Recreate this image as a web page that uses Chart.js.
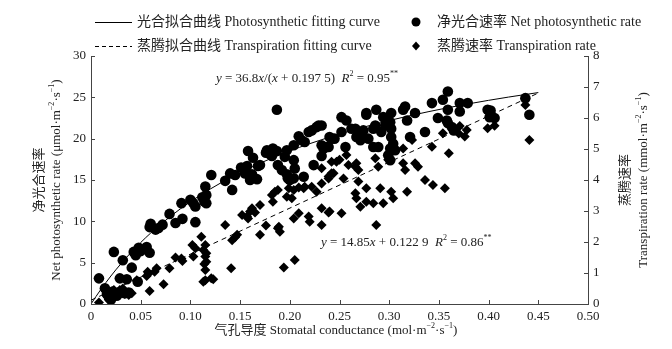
<!DOCTYPE html>
<html lang="zh">
<head>
<meta charset="UTF-8">
<title>气孔导度</title>
<script src="https://cdn.jsdelivr.net/npm/chart.js"></script>
<style>
  body { margin: 0; background: #fff; }
</style>
</head>
<body>
<canvas id="chart1" width="672" height="349"></canvas>
<script>
// net photosynthetic rate, [stomatal conductance, rate] (left axis)
const photoPts = [
  [0.008,3.1],[0.014,1.9],[0.016,1.2],[0.018,0.8],[0.020,0.5],[0.022,1.5],[0.023,6.3],[0.026,1.0],
  [0.029,3.1],[0.032,5.3],[0.034,1.3],[0.036,3.0],[0.038,1.4],[0.041,4.4],[0.043,6.3],[0.045,5.9],
  [0.047,2.7],[0.048,6.8],[0.050,6.4],[0.056,6.9],[0.059,6.2],[0.059,9.3],[0.060,9.7],[0.065,9.0],
  [0.068,9.2],[0.072,9.6],[0.079,10.9],[0.085,9.8],[0.091,12.2],[0.092,10.3],[0.100,12.6],[0.103,12.2],
  [0.105,11.8],[0.105,9.9],[0.112,12.9],[0.114,12.4],[0.115,14.2],[0.116,13.2],[0.116,12.2],[0.121,15.6],
  [0.135,14.9],[0.140,15.8],[0.142,13.8],[0.145,15.6],[0.151,16.5],[0.155,15.8],[0.157,16.7],[0.158,15.7],
  [0.158,18.5],[0.160,15.0],[0.162,15.7],[0.163,17.7],[0.167,15.1],[0.168,16.7],[0.170,16.8],[0.176,18.3],
  [0.177,18.6],[0.180,18.1],[0.182,17.9],[0.183,18.8],[0.187,18.5],[0.187,23.5],[0.188,16.8],[0.192,16.2],
  [0.195,17.8],[0.197,15.7],[0.197,18.6],[0.198,15.2],[0.200,15.0],[0.204,15.2],[0.204,17.4],[0.204,19.2],
  [0.205,16.4],[0.209,20.3],[0.212,19.8],[0.214,15.4],[0.215,19.6],[0.219,20.8],[0.222,21.0],[0.224,16.8],
  [0.227,21.4],[0.229,21.6],[0.232,21.6],[0.232,19.2],[0.232,17.9],[0.234,18.8],[0.237,19.0],[0.239,19.0],
  [0.240,20.2],[0.242,20.0],[0.245,20.0],[0.252,20.8],[0.252,22.6],[0.256,19.0],[0.257,22.2],[0.262,21.2],
  [0.266,21.2],[0.267,20.2],[0.269,20.8],[0.271,19.8],[0.272,20.6],[0.274,21.0],[0.277,22.9],[0.277,23.1],
  [0.279,20.0],[0.284,21.2],[0.284,19.0],[0.286,21.6],[0.287,23.5],[0.289,19.0],[0.292,20.8],[0.294,22.6],
  [0.296,21.6],[0.297,22.5],[0.299,18.0],[0.301,22.0],[0.301,17.4],[0.301,18.8],[0.302,23.1],[0.302,21.2],
  [0.302,20.2],[0.304,19.4],[0.306,18.6],[0.314,23.5],[0.316,23.9],[0.318,22.2],[0.321,20.2],[0.326,23.1],
  [0.336,20.8],[0.343,24.3],[0.349,22.5],[0.354,24.7],[0.358,22.2],[0.359,25.7],[0.359,23.5],[0.359,21.9],
  [0.363,21.4],[0.365,21.0],[0.371,24.3],[0.371,23.3],[0.379,24.3],[0.399,23.5],[0.402,23.4],[0.401,22.6],
  [0.406,22.5],[0.437,24.9],[0.441,22.9]
];

// transpiration rate (right axis)
const transPts = [
  [0.008,0.05],[0.016,0.27],[0.019,0.18],[0.021,0.40],[0.023,0.45],[0.029,0.45],[0.031,0.35],[0.032,0.50],
  [0.034,0.32],[0.038,0.29],[0.041,0.35],[0.046,0.77],[0.056,0.90],[0.057,1.04],[0.058,0.98],[0.059,0.42],
  [0.064,1.04],[0.066,1.15],[0.073,0.64],[0.079,1.15],[0.085,1.50],[0.091,1.47],[0.092,1.39],[0.102,1.90],
  [0.103,1.53],[0.105,1.80],[0.111,2.17],[0.113,1.74],[0.113,0.72],[0.114,1.29],[0.115,1.53],[0.115,1.90],
  [0.116,1.64],[0.116,1.36],[0.115,1.10],[0.115,0.77],[0.121,0.83],[0.123,0.80],[0.135,2.55],[0.141,1.15],
  [0.142,2.06],[0.145,2.15],[0.147,2.23],[0.152,2.87],[0.157,2.82],[0.158,2.76],[0.160,2.98],[0.162,3.09],
  [0.165,2.95],[0.170,3.19],[0.170,2.23],[0.176,2.53],[0.182,3.52],[0.183,3.30],[0.185,3.62],[0.188,3.68],
  [0.188,2.44],[0.189,2.49],[0.190,2.33],[0.194,1.18],[0.197,3.46],[0.199,3.73],[0.202,3.41],[0.204,3.68],
  [0.204,2.76],[0.205,1.42],[0.209,2.93],[0.209,3.76],[0.214,3.73],[0.215,3.78],[0.219,2.82],[0.220,2.65],
  [0.222,3.78],[0.227,3.62],[0.232,3.89],[0.232,4.38],[0.232,2.55],[0.232,3.09],[0.239,2.95],[0.239,4.11],
  [0.239,4.05],[0.242,4.59],[0.242,4.22],[0.244,4.22],[0.247,4.59],[0.250,4.65],[0.240,2.98],[0.252,2.93],
  [0.254,4.05],[0.257,4.81],[0.259,4.48],[0.266,4.43],[0.267,4.54],[0.269,4.32],[0.269,3.95],[0.266,3.57],
  [0.267,3.41],[0.271,3.14],[0.277,3.73],[0.277,3.30],[0.284,3.25],[0.286,4.70],[0.287,2.55],[0.289,4.43],
  [0.291,3.73],[0.294,3.25],[0.299,4.65],[0.302,4.91],[0.302,3.62],[0.304,3.41],[0.314,5.02],[0.314,4.54],
  [0.316,4.32],[0.318,3.62],[0.323,5.29],[0.326,4.54],[0.329,4.43],[0.336,4.00],[0.343,5.07],[0.344,3.84],
  [0.354,5.51],[0.356,3.73],[0.360,4.86],[0.370,5.50],[0.371,5.74],[0.376,5.40],[0.378,5.61],[0.399,5.67],
  [0.406,5.75],[0.437,6.42],[0.441,5.29]
];

// fitted equations printed on the chart
const photoFit = { a: 36.8, b: 0.1975 };
const transFit = { k: 14.85, c: 0.1229 };
const fitX = [0,0.005,0.01,0.02,0.03,0.04,0.05,0.06,0.08,0.10,0.12,0.14,0.16,0.18,0.20,
              0.22,0.24,0.26,0.28,0.30,0.32,0.34,0.36,0.38,0.40,0.42,0.45];

const xTicks = [0,0.05,0.10,0.15,0.20,0.25,0.30,0.35,0.40,0.45,0.50];
const yLeftTicks = [0,5,10,15,20,25,30];
const yRightTicks = [0,1,2,3,4,5,6,7,8];

const FONT = '"Liberation Serif", "Times New Roman", "Noto Sans CJK SC", serif';
const TXT = '#222';

function richWidth(ctx, parts, size) {
  let w = 0;
  parts.forEach(p => {
    const s = p.sup ? size * 0.62 : size;
    ctx.font = (p.i ? 'italic ' : '') + s + 'px ' + FONT;
    w += ctx.measureText(p.t).width;
  });
  return w;
}
function richText(ctx, x, y, parts, size) {
  let cx = x;
  ctx.textAlign = 'left';
  ctx.textBaseline = 'middle';
  parts.forEach(p => {
    const s = p.sup ? size * 0.62 : size;
    ctx.font = (p.i ? 'italic ' : '') + s + 'px ' + FONT;
    ctx.fillText(p.t, cx, p.sup ? y - size * 0.38 : y);
    cx += ctx.measureText(p.t).width;
  });
}
function richCenter(ctx, x, y, parts, size) {
  richText(ctx, x - richWidth(ctx, parts, size) / 2, y, parts, size);
}

const decor = {
  id: 'decor',
  afterDraw(chart) {
    const ctx = chart.ctx;
    const { left, right, bottom } = chart.chartArea;
    const xs = chart.scales.x, yl = chart.scales.yL, yr = chart.scales.yR;
    ctx.save();
    // inward tick marks
    ctx.strokeStyle = '#444';
    ctx.lineWidth = 1;
    ctx.beginPath();
    xTicks.forEach(v => {
      const p = Math.round(xs.getPixelForValue(v)) + 0.5;
      ctx.moveTo(p, bottom); ctx.lineTo(p, bottom - 4);
    });
    yLeftTicks.forEach(v => {
      const p = Math.round(yl.getPixelForValue(v)) + 0.5;
      ctx.moveTo(left, p); ctx.lineTo(left + 4, p);
    });
    yRightTicks.forEach(v => {
      const p = Math.round(yr.getPixelForValue(v)) + 0.5;
      ctx.moveTo(right, p); ctx.lineTo(right - 4, p);
    });
    ctx.stroke();

    ctx.fillStyle = TXT;
    // legend
    ctx.strokeStyle = '#000';
    ctx.beginPath(); ctx.moveTo(95, 22.5); ctx.lineTo(132, 22.5); ctx.stroke();
    ctx.setLineDash([4, 3]);
    ctx.beginPath(); ctx.moveTo(95, 46.5); ctx.lineTo(132, 46.5); ctx.stroke();
    ctx.setLineDash([]);
    richText(ctx, 137, 22, [{ t: '光合拟合曲线 Photosynthetic fitting curve' }], 14);
    richText(ctx, 137, 46, [{ t: '蒸腾拟合曲线 Transpiration fitting curve' }], 14);
    ctx.fillStyle = '#000';
    ctx.beginPath(); ctx.arc(416, 22, 4.5, 0, Math.PI * 2); ctx.fill();
    ctx.beginPath();
    ctx.moveTo(416, 41.5); ctx.lineTo(420, 46); ctx.lineTo(416, 50.5); ctx.lineTo(412, 46);
    ctx.closePath(); ctx.fill();
    ctx.fillStyle = TXT;
    richText(ctx, 437, 22, [{ t: '净光合速率 Net photosynthetic rate' }], 14);
    richText(ctx, 437, 46, [{ t: '蒸腾速率 Transpiration rate' }], 14);

    // fit equations
    richText(ctx, 216, 79, [
      { t: 'y', i: true }, { t: ' = 36.8' }, { t: 'x', i: true }, { t: '/(' }, { t: 'x', i: true },
      { t: ' + 0.197 5)  ' }, { t: 'R', i: true }, { t: '2', sup: true }, { t: ' = 0.95' }, { t: '**', sup: true }
    ], 13);
    richText(ctx, 321, 243, [
      { t: 'y', i: true }, { t: ' = 14.85' }, { t: 'x', i: true }, { t: ' + 0.122 9  ' },
      { t: 'R', i: true }, { t: '2', sup: true }, { t: ' = 0.86' }, { t: '**', sup: true }
    ], 13);

    // axis titles
    richCenter(ctx, 336, 331, [
      { t: '气孔导度 Stomatal conductance (mol·m' }, { t: '−2', sup: true }, { t: '·s' }, { t: '−1', sup: true }, { t: ')' }
    ], 13);
    ctx.save();
    ctx.translate(0, 180);
    ctx.rotate(-Math.PI / 2);
    richCenter(ctx, 0, 40, [{ t: '净光合速率' }], 13);
    richCenter(ctx, 0, 57, [
      { t: 'Net photosynthetic rate (μmol·m' }, { t: '−2', sup: true }, { t: '·s' }, { t: '−1', sup: true }, { t: ')' }
    ], 13);
    richCenter(ctx, 0, 626, [{ t: '蒸腾速率' }], 13);
    richCenter(ctx, 0, 644, [
      { t: 'Transpiration rate (mmol·m' }, { t: '−2', sup: true }, { t: '·s' }, { t: '−1', sup: true }, { t: ')' }
    ], 13);
    ctx.restore();
    ctx.restore();
  }
};

const tickFont = { family: FONT, size: 13 };

new Chart(document.getElementById('chart1'), {
  type: 'scatter',
  data: {
    datasets: [
      {
        label: '净光合速率 Net photosynthetic rate',
        data: photoPts.map(p => ({ x: p[0], y: p[1] })),
        yAxisID: 'yL',
        pointStyle: 'circle',
        pointRadius: 5.3,
        backgroundColor: '#000',
        borderWidth: 0
      },
      {
        label: '蒸腾速率 Transpiration rate',
        data: transPts.map(p => ({ x: p[0], y: p[1] })),
        yAxisID: 'yR',
        pointStyle: 'rectRot',
        pointRadius: 5,
        backgroundColor: '#000',
        borderWidth: 0
      },
      {
        label: '光合拟合曲线 Photosynthetic fitting curve',
        data: fitX.map(x => ({ x: x, y: photoFit.a * x / (x + photoFit.b) })),
        yAxisID: 'yL',
        showLine: true,
        pointRadius: 0,
        borderColor: '#000',
        borderWidth: 1,
        cubicInterpolationMode: 'monotone'
      },
      {
        label: '蒸腾拟合曲线 Transpiration fitting curve',
        data: [0, 0.45].map(x => ({ x: x, y: transFit.k * x + transFit.c })),
        yAxisID: 'yR',
        showLine: true,
        pointRadius: 0,
        borderColor: '#000',
        borderWidth: 1,
        borderDash: [5, 4]
      }
    ]
  },
  options: {
    responsive: false,
    animation: false,
    devicePixelRatio: 1,
    layout: { padding: { top: 56 } },
    plugins: { legend: { display: false }, tooltip: { enabled: false } },
    scales: {
      x: {
        type: 'linear', position: 'bottom', min: 0, max: 0.5,
        afterBuildTicks: s => { s.ticks = xTicks.map(v => ({ value: v })); },
        ticks: { font: tickFont, color: TXT, padding: 5, maxRotation: 0,
                 callback: v => v === 0 ? '0' : v.toFixed(2) },
        grid: { drawOnChartArea: false, drawTicks: false },
        border: { color: '#444' },
        afterFit: s => { s.height = 45; }
      },
      yL: {
        type: 'linear', position: 'left', min: 0, max: 30,
        afterBuildTicks: s => { s.ticks = yLeftTicks.map(v => ({ value: v })); },
        ticks: { font: tickFont, color: TXT, padding: 5 },
        grid: { drawOnChartArea: false, drawTicks: false },
        border: { color: '#444' },
        afterFit: s => { s.width = 91; }
      },
      yR: {
        type: 'linear', position: 'right', min: 0, max: 8,
        afterBuildTicks: s => { s.ticks = yRightTicks.map(v => ({ value: v })); },
        ticks: { font: tickFont, color: TXT, padding: 5 },
        grid: { drawOnChartArea: false, drawTicks: false },
        border: { color: '#444' },
        afterFit: s => { s.width = 84; }
      }
    }
  },
  plugins: [decor]
});
</script>
</body>
</html>
